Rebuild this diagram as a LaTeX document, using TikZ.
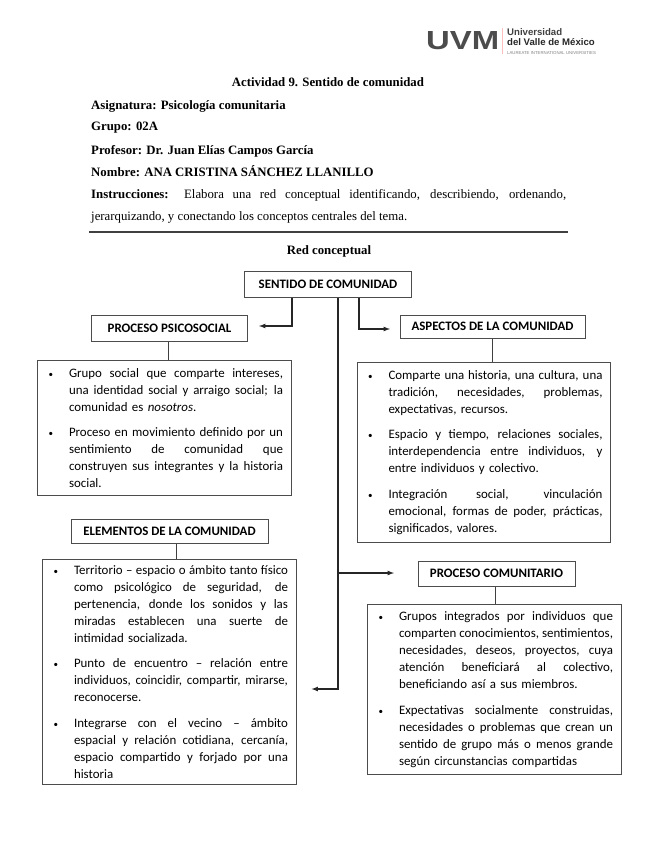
\documentclass[tikz,border=0pt]{standalone}
\usepackage{fontspec}
\usepackage{graphicx}
\setmainfont{Carlito}
\newfontfamily\serifa{Liberation Serif}
\newfontfamily\logofont{Liberation Sans}
\usetikzlibrary{arrows}

% one line of a box, stretched to the column
\newcommand{\lin}[1]{\hbox to\hsize{\hskip 23.5pt\hbox to 214pt{\spaceskip=\fontdimen2\font plus 1fil\relax #1}\hss}}
\newcommand{\pun}[1]{\lin{\llap{\scalebox{0.7}{\textbullet}\hspace{16pt}}#1}}
\newcommand{\fin}[1]{\hbox to\hsize{\hskip 23.5pt #1\hss}}
\newcommand{\gap}{\vskip 8.3pt}

\begin{document}
\begin{tikzpicture}[
    x=1pt, y=-1pt,
    titlebox/.style={rectangle, draw=black!70, line width=1pt, font=\fontsize{12.9}{15}\selectfont\bfseries, inner sep=0pt},
    textbox/.style={rectangle, draw=black!70, line width=1pt, anchor=north west, inner ysep=0pt, inner xsep=8pt, text width=237.5pt, font=\fontsize{12.9}{17}\selectfont},
    headline/.style={anchor=base west, inner sep=0pt, font=\fontsize{12.8}{15}\selectfont\serifa\bfseries},
    directed/.style={-latex, line width=1.2pt, black!85},
    plain/.style={line width=1pt, black!75}
]
\useasboundingbox (0,0) rectangle (655,848);

% Logo
\node[inner sep=0pt, anchor=west, text=black!70] (uvm) at (426,41) {\resizebox{73pt}{18pt}{\logofont\bfseries UVM}};
\coordinate (logotop) at (502.5,28);
\coordinate (logobottom) at (502.5,54);
\draw[red!25, line width=0.6pt] (logotop) -- (logobottom);
\node[anchor=base west, inner sep=0pt, text=black!75, font=\fontsize{9.6}{10}\selectfont\logofont\bfseries] (uni) at (507,35.5) {Universidad};
\node[anchor=base west, inner sep=0pt, text=black!85, font=\fontsize{9.6}{10}\selectfont\logofont\bfseries] (valle) at (507,45.5) {del Valle de México};
\node[anchor=base west, inner sep=0pt, text=black!50, font=\fontsize{4.3}{4}\selectfont\logofont] (laureate) at (507,54.5) {LAUREATE INTERNATIONAL UNIVERSITIES};

% Heading
\node[headline, anchor=base] (title) at (328,87) {Actividad 9. Sentido de comunidad};
\node[headline] (asignatura) at (91,110) {Asignatura: Psicología comunitaria};
\node[headline] (grupo) at (91,131) {Grupo: 02A};
\node[headline] (profesor) at (91,154) {Profesor: Dr. Juan Elías Campos García};
\node[headline] (nombre) at (91,176) {Nombre: ANA CRISTINA SÁNCHEZ LLANILLO};
\node[headline, font=\fontsize{12.8}{15}\selectfont\serifa] (instrucciones) at (91,198) {\hbox to 475pt{\textbf{Instrucciones:} Elabora una red conceptual identificando, describiendo, ordenando,}};
\node[headline, font=\fontsize{12.8}{15}\selectfont\serifa] (instrucciones2) at (91,220) {jerarquizando, y conectando los conceptos centrales del tema.};
\coordinate (ruleleft) at (89,232);
\coordinate (ruleright) at (568,232);
\draw[black!75, line width=1.6pt] (ruleleft) -- (ruleright);
\node[headline, anchor=base] (red) at (329,254) {Red conceptual};

% Nodes
\node[titlebox, minimum width=166.5pt, minimum height=26pt] (sentido) at (328,284) {SENTIDO DE COMUNIDAD};
\node[titlebox, minimum width=155.5pt, minimum height=26pt] (psicosocial) at (169.5,328) {PROCESO PSICOSOCIAL};
\node[titlebox, minimum width=185pt, minimum height=23pt] (aspectos) at (492.5,326.5) {ASPECTOS DE LA COMUNIDAD};
\node[titlebox, minimum width=197pt, minimum height=24pt] (elementos) at (169.5,531) {ELEMENTOS DE LA COMUNIDAD};
\node[titlebox, minimum width=157pt, minimum height=25pt] (comunitario) at (496.5,573.5) {PROCESO COMUNITARIO};

\node[textbox, minimum height=135pt] (psicobox) at (37,360) {%
\pun{Grupo social que comparte intereses,}
\lin{una identidad social y arraigo social; la}
\fin{comunidad es \textit{nosotros}.}
\gap
\pun{Proceso en movimiento definido por un}
\lin{sentimiento de comunidad que}
\lin{construyen sus integrantes y la historia}
\fin{social.}
};
\node[textbox, minimum height=180pt] (aspectobox) at (356.5,362) {%
\pun{Comparte una historia, una cultura, una}
\lin{tradición, necesidades, problemas,}
\fin{expectativas, recursos.}
\gap
\pun{Espacio y tiempo, relaciones sociales,}
\lin{interdependencia entre individuos, y}
\fin{entre individuos y colectivo.}
\gap
\pun{Integración social, vinculación}
\lin{emocional, formas de poder, prácticas,}
\fin{significados, valores.}
};
\node[textbox, minimum height=225pt] (elementobox) at (42,559) {%
\pun{Territorio – espacio o ámbito tanto físico}
\lin{como psicológico de seguridad, de}
\lin{pertenencia, donde los sonidos y las}
\lin{miradas establecen una suerte de}
\fin{intimidad socializada.}
\gap
\pun{Punto de encuentro – relación entre}
\lin{individuos, coincidir, compartir, mirarse,}
\fin{reconocerse.}
\gap
\pun{Integrarse con el vecino – ámbito}
\lin{espacial y relación cotidiana, cercanía,}
\lin{espacio compartido y forjado por una}
\fin{historia}
};
\node[textbox, minimum height=170pt] (comunitariobox) at (367,604) {%
\pun{Grupos integrados por individuos que}
\lin{comparten conocimientos, sentimientos,}
\lin{necesidades, deseos, proyectos, cuya}
\lin{atención beneficiará al colectivo,}
\fin{beneficiando así a sus miembros.}
\gap
\pun{Expectativas socialmente construidas,}
\lin{necesidades o problemas que crean un}
\lin{sentido de grupo más o menos grande}
\fin{según circunstancias compartidas}
};

% Edges
\coordinate (psicoend) at (259,326);
\coordinate (aspectoend) at (390,329);
\coordinate (comunitarioend) at (394,573);
\coordinate (elementoend) at (311.5,689);
\draw[directed] (sentido.south -| 292,0) |- (psicoend);
\draw[directed] (sentido.south -| 359,0) |- (aspectoend);
\draw[directed] (sentido.south -| 338,0) |- (elementoend);
\draw[directed] (338,573) -- (comunitarioend);
\draw[plain] (psicosocial.south -| 168.5,0) -- (psicobox.north -| 168.5,0);
\draw[plain] (aspectos.south) -- (aspectobox.north -| aspectos.south);
\draw[plain] (elementos.south -| 176,0) -- (elementobox.north -| 176,0);
\draw[plain] (comunitario.south -| 495,0) -- (comunitariobox.north -| 495,0);

\end{tikzpicture}
\end{document}
